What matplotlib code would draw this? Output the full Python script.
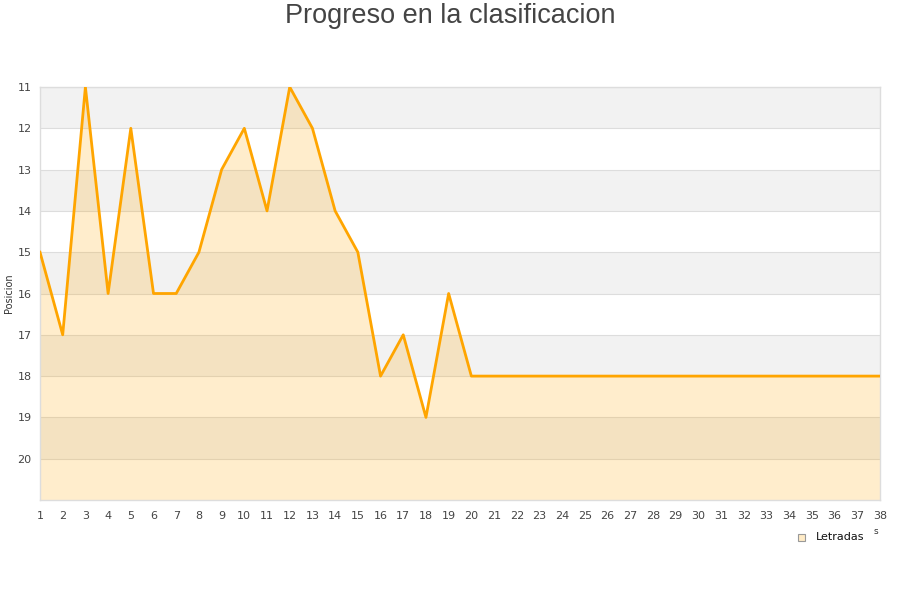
import matplotlib
matplotlib.use("Agg")
import matplotlib.pyplot as plt
from matplotlib.patches import Rectangle

jornadas = list(range(1, 39))
posiciones = [15, 17, 11, 16, 12, 16, 16, 15, 13, 12, 14, 11, 12, 14, 15, 18, 17, 19, 16,
              18, 18, 18, 18, 18, 18, 18, 18, 18, 18, 18, 18, 18, 18, 18, 18, 18, 18, 18]
y_ticks = list(range(11, 21))
serie = "Letradas"
titulo = "Progreso en la clasificacion"
ylabel = "Posicion"

fig = plt.figure(figsize=(9, 6), dpi=100)
ax = fig.add_axes([40/900, 1-500/600, 840/900, 413/600])

ax.set_xlim(1, 38)
ax.set_ylim(21, 11)

# alternating bands
for i, y0 in enumerate(range(11, 21)):
    if i % 2 == 0:
        ax.axhspan(y0, y0 + 1, color="#F2F2F2", zorder=0, lw=0)

ax.fill_between(jornadas, posiciones, 21, color="#FFA500", alpha=0.2, lw=0, zorder=1)
ax.plot(jornadas, posiciones, color="#FFA500", lw=2.0, zorder=3)

ax.set_yticks(y_ticks)
ax.set_xticks(jornadas)
ax.yaxis.grid(True, color="#DDDDDD", lw=0.8, zorder=0.5)
ax.set_axisbelow(True)
ax.tick_params(axis="both", length=0, labelsize=8, colors="#444444", pad=8)
ax.tick_params(axis="y", pad=6)
for s in ax.spines.values():
    s.set_color("#DDDDDD")
    s.set_linewidth(1)

fig.text(450/900, 1-16/600, titulo, ha="center", va="center", fontsize=19.5,
         family="Liberation Sans", color="#444444")
fig.text(9/900, 1-293/600, ylabel, rotation=90, ha="center", va="center",
         fontsize=7, color="#333333")
fig.text(876/900, 1-531/600, "s", ha="center", va="center", fontsize=6.5, color="#333333")

# legend
fig.patches.append(Rectangle((798/900, 1-541/600), 7/900, 7/600, transform=fig.transFigure,
                             facecolor="#FFEBC6", edgecolor="#999999", lw=0.8))
fig.text(816/900, 1-537/600, serie, ha="left", va="center", fontsize=8, color="#111111")

fig.savefig("out.png", dpi=100)
